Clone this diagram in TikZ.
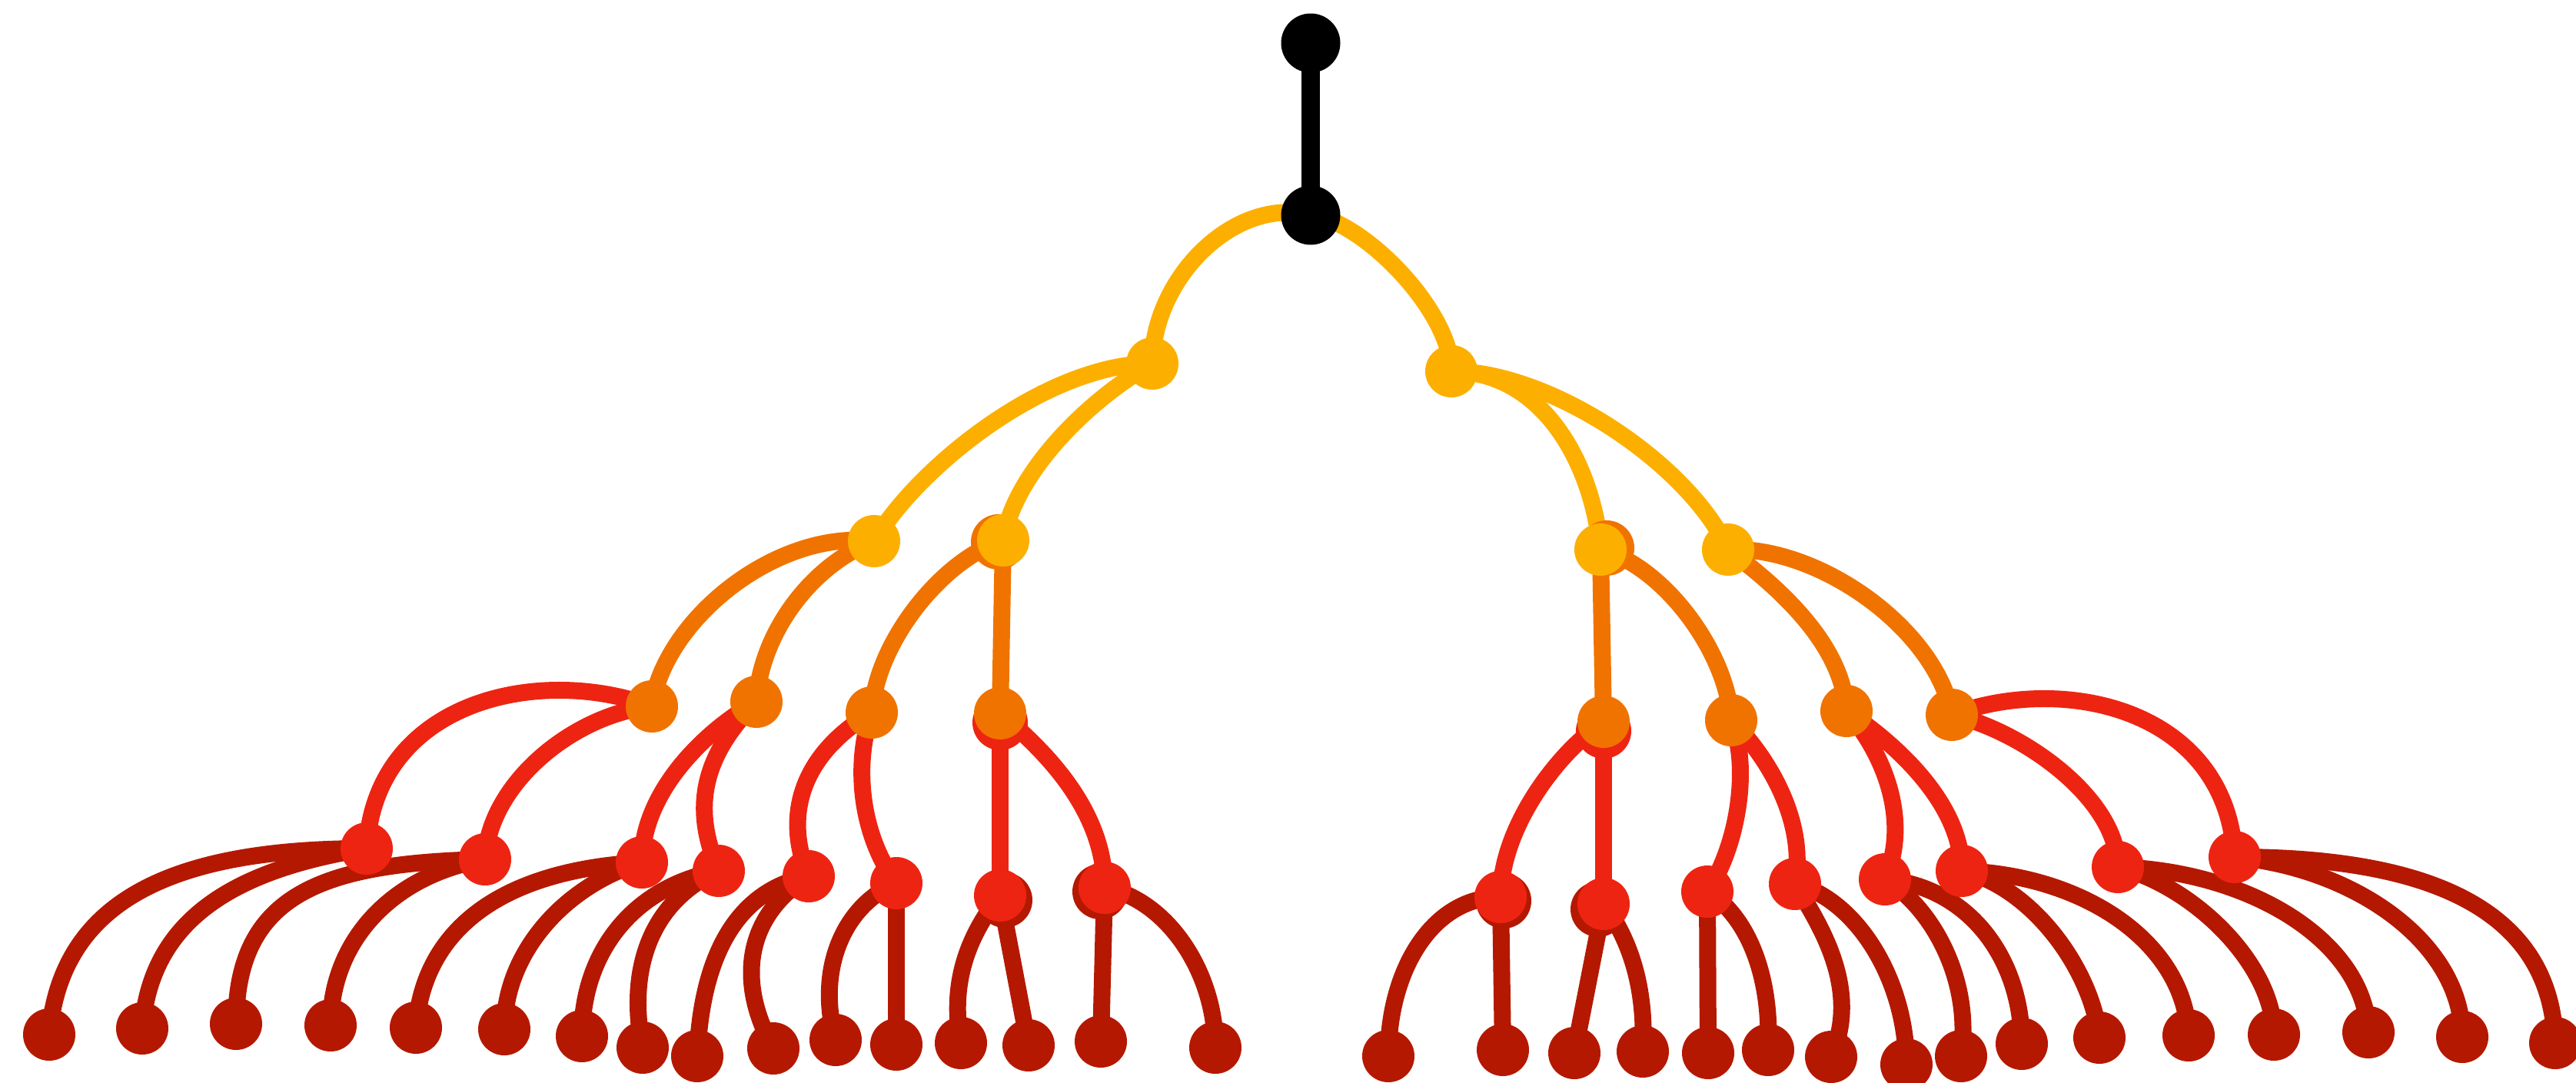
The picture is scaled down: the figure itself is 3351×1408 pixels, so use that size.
\documentclass[tikz,border=0pt]{standalone}
\usetikzlibrary{backgrounds,calc}
\definecolor{cY}{HTML}{FDAF00}
\definecolor{cO}{HTML}{F07300}
\definecolor{cR}{HTML}{EE2412}
\definecolor{cD}{HTML}{B51800}
% curved connector: style, from, control offset from start, to, control offset from end
\newcommand\lnkc[5]{\draw[lnk,#1] (#2.center) .. controls ($(#2.center)+(#3)$) and ($(#4.center)+(#5)$) .. (#4.center);}
\newcommand\lnks[3]{\draw[lnk,#1] (#2.center) -- (#3.center);}
\begin{document}
\begin{tikzpicture}[x=1pt,y=1pt,
  dot/.style={circle,inner sep=0pt,minimum size=68pt},
  big/.style={circle,inner sep=0pt,minimum size=77pt,fill=black},
  lnk/.style={line width=22pt},
  shd/.style={circle,inner sep=0pt,minimum size=72pt}]
\useasboundingbox (0,0) rectangle (3351,-1408);
% level 0-1
\node[big] (A) at (1705,-56) {};
\node[big] (B) at (1705,-280) {};
% level 2-3 (yellow)
\node[dot,fill=cY] (L) at (1499,-473) {};
\node[dot,fill=cY] (R) at (1888,-483) {};
\node[dot,fill=cY] (LL) at (1137,-704) {};
\node[dot,fill=cY] (LR) at (1305,-703) {};
\node[dot,fill=cY] (RL) at (2082,-715) {};
\node[dot,fill=cY] (RR) at (2248,-715) {};
% level 4 (orange)
\node[dot,fill=cO] (o1) at (848,-919) {};
\node[dot,fill=cO] (o2) at (984,-913) {};
\node[dot,fill=cO] (o3) at (1134,-927) {};
\node[dot,fill=cO] (o4) at (1301,-928) {};
\node[dot,fill=cO] (o5) at (2086,-939) {};
\node[dot,fill=cO] (o6) at (2252,-937) {};
\node[dot,fill=cO] (o7) at (2402,-925) {};
\node[dot,fill=cO] (o8) at (2539,-930) {};
% level 5 (red)
\node[dot,fill=cR] (r1) at (477,-1104) {};
\node[dot,fill=cR] (r2) at (631,-1118) {};
\node[dot,fill=cR] (r3) at (835,-1122) {};
\node[dot,fill=cR] (r4) at (935,-1133) {};
\node[dot,fill=cR] (r5) at (1052,-1140) {};
\node[dot,fill=cR] (r6) at (1166,-1149) {};
\node[dot,fill=cR] (r7) at (1301,-1165) {};
\node[dot,fill=cR] (r8) at (1437,-1155) {};
\node[dot,fill=cR] (r9) at (1952,-1167) {};
\node[dot,fill=cR] (r10) at (2086,-1176) {};
\node[dot,fill=cR] (r11) at (2221,-1160) {};
\node[dot,fill=cR] (r12) at (2335,-1150) {};
\node[dot,fill=cR] (r13) at (2452,-1144) {};
\node[dot,fill=cR] (r14) at (2552,-1133) {};
\node[dot,fill=cR] (r15) at (2755,-1128) {};
\node[dot,fill=cR] (r16) at (2907,-1115) {};
% leaves (dark red)
\node[dot,fill=cD] (l1) at (64,-1346) {};
\node[dot,fill=cD] (l2) at (185,-1338) {};
\node[dot,fill=cD] (l3) at (307,-1332) {};
\node[dot,fill=cD] (l4) at (430,-1334) {};
\node[dot,fill=cD] (l5) at (541,-1337) {};
\node[dot,fill=cD] (l6) at (656,-1339) {};
\node[dot,fill=cD] (l7) at (757,-1348) {};
\node[dot,fill=cD] (l8) at (836,-1363) {};
\node[dot,fill=cD] (l9) at (907,-1374) {};
\node[dot,fill=cD] (l10) at (1006,-1364) {};
\node[dot,fill=cD] (l11) at (1087,-1353) {};
\node[dot,fill=cD] (l12) at (1166,-1359) {};
\node[dot,fill=cD] (l13) at (1250,-1357) {};
\node[dot,fill=cD] (l14) at (1338,-1360) {};
\node[dot,fill=cD] (l15) at (1432,-1355) {};
\node[dot,fill=cD] (l16) at (1581,-1363) {};
\node[dot,fill=cD] (l17) at (1806,-1374) {};
\node[dot,fill=cD] (l18) at (1955,-1366) {};
\node[dot,fill=cD] (l19) at (2048,-1370) {};
\node[dot,fill=cD] (l20) at (2137,-1368) {};
\node[dot,fill=cD] (l21) at (2222,-1370) {};
\node[dot,fill=cD] (l22) at (2300,-1366) {};
\node[dot,fill=cD] (l23) at (2382,-1375) {};
\node[dot,fill=cD] (l24) at (2480,-1385) {};
\node[dot,fill=cD] (l25) at (2551,-1374) {};
\node[dot,fill=cD] (l26) at (2630,-1358) {};
\node[dot,fill=cD] (l27) at (2731,-1350) {};
\node[dot,fill=cD] (l28) at (2847,-1347) {};
\node[dot,fill=cD] (l29) at (2958,-1346) {};
\node[dot,fill=cD] (l30) at (3081,-1343) {};
\node[dot,fill=cD] (l31) at (3203,-1349) {};
\node[dot,fill=cD] (l32) at (3324,-1357) {};
\begin{scope}[on background layer]
% black
\draw[line width=24pt,black] (A.center) -- (B.center);
% yellow
\lnkc{cY}{B}{-100,25}{L}{0,110}
\lnkc{cY}{B}{65,-5}{R}{0,80}
\lnkc{cY}{L}{-135,0}{LL}{60,100}
\lnkc{cY}{L}{-80,-45}{LR}{15,90}
\lnkc{cY}{R}{120,0}{RL}{-10,110}
\lnkc{cY}{R}{130,0}{RR}{-50,110}
% orange
\lnkc{cO}{LL}{-130,15}{o1}{15,110}
\lnkc{cO}{LL}{-80,-30}{o2}{5,90}
\lnkc{cO}{LR}{-80,-25}{o3}{5,90}
\lnks{cO}{LR}{o4}
\lnks{cO}{RL}{o5}
\lnkc{cO}{RL}{80,-20}{o6}{-5,90}
\lnkc{cO}{RR}{60,-45}{o7}{-5,90}
\lnkc{cO}{RR}{120,5}{o8}{-20,110}
% red
\lnkc{cR}{o1}{-150,55}{r1}{10,190}
\lnkc{cR}{o1}{-100,-10}{r2}{5,100}
\lnkc{cR}{o2}{-70,-40}{r3}{0,90}
\lnkc{cR}{o2}{-80,-80}{r4}{-30,70}
\lnkc{cR}{o3}{-100,-60}{r5}{-30,70}
\lnkc{cR}{o3}{-25,-70}{r6}{-45,60}
\lnks{cR}{o4}{r7}
\lnkc{cR}{o4}{60,-50}{r8}{0,100}
\lnkc{cR}{o5}{-60,-40}{r9}{0,90}
\lnks{cR}{o5}{r10}
\lnkc{cR}{o6}{25,-60}{r11}{40,60}
\lnkc{cR}{o6}{50,-50}{r12}{15,80}
\lnkc{cR}{o7}{45,-50}{r13}{35,80}
\lnkc{cR}{o7}{60,-40}{r14}{0,90}
\lnkc{cR}{o8}{90,-20}{r15}{0,90}
\lnkc{cR}{o8}{150,55}{r16}{-10,190}
% dark red
\lnkc{cD}{r1}{-260,0}{l1}{15,170}
\lnkc{cD}{r1}{-190,-30}{l2}{10,130}
\lnkc{cD}{r2}{-210,-5}{l3}{0,170}
\lnkc{cD}{r2}{-120,-20}{l4}{0,110}
\lnkc{cD}{r3}{-180,-10}{l5}{10,130}
\lnkc{cD}{r3}{-100,-30}{l6}{0,100}
\lnkc{cD}{r4}{-110,-20}{l7}{0,110}
\lnkc{cD}{r4}{-90,-40}{l8}{-20,100}
\lnkc{cD}{r5}{-100,-20}{l9}{5,120}
\lnkc{cD}{r5}{-80,-50}{l10}{-50,90}
\lnkc{cD}{r6}{-70,-30}{l11}{-25,90}
\lnks{cD}{r6}{l12}
\lnkc{cD}{r7}{-40,-50}{l13}{-15,80}
\lnks{cD}{r7}{l14}
\lnks{cD}{r8}{l15}
\lnkc{cD}{r8}{80,-15}{l16}{0,100}
\lnkc{cD}{r9}{-90,0}{l17}{0,110}
\lnks{cD}{r9}{l18}
\lnks{cD}{r10}{l19}
\lnkc{cD}{r10}{30,-40}{l20}{5,90}
\lnks{cD}{r11}{l21}
\lnkc{cD}{r11}{50,-30}{l22}{5,100}
\lnkc{cD}{r12}{30,-50}{l23}{40,90}
\lnkc{cD}{r12}{80,-20}{l24}{0,110}
\lnkc{cD}{r13}{60,-35}{l25}{15,100}
\lnkc{cD}{r13}{110,-10}{l26}{0,110}
\lnkc{cD}{r14}{90,-20}{l27}{-10,90}
\lnkc{cD}{r14}{160,-5}{l28}{-5,120}
\lnkc{cD}{r15}{100,-25}{l29}{0,90}
\lnkc{cD}{r15}{170,-5}{l30}{-5,120}
\lnkc{cD}{r16}{160,-15}{l31}{0,120}
\lnkc{cD}{r16}{260,0}{l32}{-5,170}
% offset under-circles
\node[shd,fill=cO] (s1) at (1299,-705) {};
\node[shd,fill=cO] (s2) at (2090,-713) {};
\node[shd,fill=cR] (s3) at (1301,-940) {};
\node[shd,fill=cR] (s4) at (2086,-951) {};
\node[shd,fill=cD] (s5) at (1307,-1171) {};
\node[shd,fill=cD] (s6) at (1431,-1160) {};
\node[shd,fill=cD] (s7) at (1956,-1172) {};
\node[shd,fill=cD] (s8) at (2079,-1183) {};
\end{scope}
\end{tikzpicture}
\end{document}
